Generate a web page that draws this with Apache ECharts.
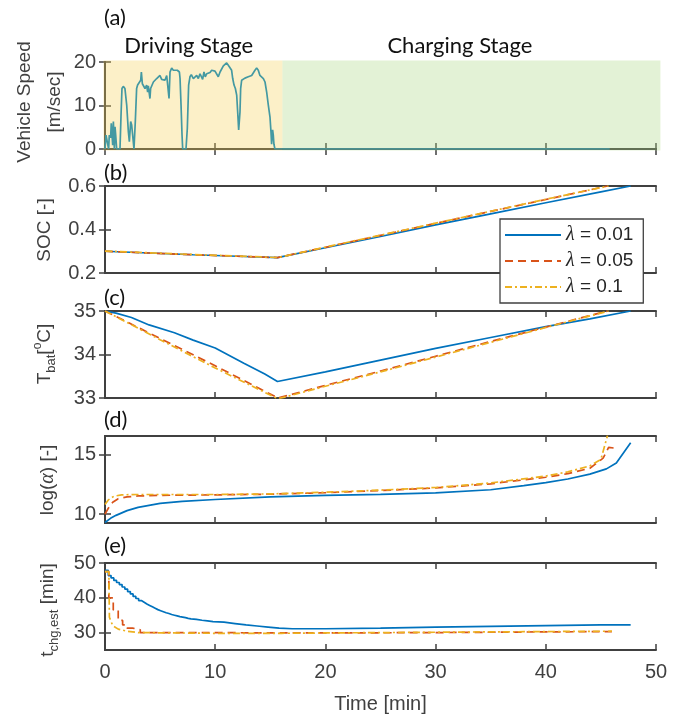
<!DOCTYPE html>
<html>
<head>
<meta charset="utf-8">
<script src="https://cdn.jsdelivr.net/npm/echarts@6/dist/echarts.min.js"></script>
<style>
  html, body { margin: 0; background: #fff; }
  #chart { width: 682px; height: 716px; }
</style>
</head>
<body>
<div id="chart"></div>
<script>
// ---- data ----
const timeTicks = [0, 10, 20, 30, 40, 50];
const lambdas = ['λ = 0.01', 'λ = 0.05', 'λ = 0.1'];

// (a) vehicle speed [m/s] vs time [min]
const speed = [
  [0, 0], [0.09, 3.2], [0.21, 3.4], [0.33, 0], [0.39, 3.2], [0.51, 2.6], [0.57, 5.9], [0.7, 0.9],
  [0.76, 6.3], [0.85, 0], [0.91, 5.1], [0.97, 3.2], [1.06, 0], [1.36, 0], [1.45, 7.4], [1.54, 13.9],
  [1.66, 14.4], [1.81, 13.9], [1.97, 10.1], [2.12, 4.0], [2.21, 1.7], [2.33, 6.3], [2.42, 5.5],
  [2.51, 3.2], [2.63, 0], [2.75, 6.3], [2.87, 13.9], [2.96, 14.7], [3.12, 14.3], [3.24, 15.8],
  [3.3, 17.7], [3.39, 15.0], [3.48, 14.7], [3.63, 13.9], [3.78, 14.7], [3.87, 13.1], [3.93, 14.5],
  [4.08, 11.6], [4.14, 13.9], [4.26, 14.3], [4.39, 15.4], [4.54, 15.0], [4.69, 16.2], [4.87, 16.2],
  [4.99, 16.9], [5.14, 16.0], [5.29, 16.3], [5.44, 15.8], [5.6, 16.9], [5.75, 17.3], [5.81, 11.6],
  [5.9, 17.7], [6.05, 18.6], [6.2, 18.1], [6.35, 18.5], [6.56, 18.1], [6.75, 17.7], [6.81, 16.2],
  [6.9, 10.1], [6.99, 3.2], [7.05, 0], [7.35, 0], [7.47, 4.7], [7.59, 14.7], [7.71, 16.6],
  [7.83, 17.1], [8.02, 16.2], [8.17, 16.6], [8.32, 16.9], [8.47, 16.2], [8.62, 17.3], [8.77, 16.9],
  [8.86, 16.0], [8.98, 17.7], [9.1, 16.6], [9.23, 17.3], [9.38, 17.7], [9.53, 17.6], [9.68, 18.1],
  [9.83, 18.1], [9.98, 17.9], [10.13, 18.1], [10.28, 16.6], [10.44, 17.7], [10.59, 18.1],
  [10.74, 19.1], [10.89, 18.9], [11.04, 19.8], [11.19, 19.6], [11.28, 18.9], [11.4, 18.5],
  [11.49, 18.1], [11.59, 16.2], [11.71, 14.7], [11.83, 13.9], [11.95, 12.4], [12.04, 8.5],
  [12.13, 4.4], [12.19, 4.1], [12.25, 8.5], [12.31, 13.9], [12.4, 15.8], [12.55, 16.0],
  [12.7, 16.3], [12.85, 16.0], [13.0, 16.6], [13.16, 16.2], [13.31, 16.9], [13.46, 17.3],
  [13.61, 18.1], [13.76, 18.6], [13.91, 18.1], [14.06, 16.9], [14.21, 16.6], [14.37, 16.2],
  [14.52, 15.4], [14.67, 13.1], [14.82, 10.1], [14.97, 7.4], [15.06, 4.0], [15.12, 1.1],
  [15.21, 4.4], [15.27, 3.2], [15.33, 1.1], [15.42, 0], [30, 0], [45.8, 0]
];
const stageEdges = [0, 16.1, 50.4];
const stageNames = ['Driving Stage', 'Charging Stage'];
const stageLabelT = [7.6, 32.2];

// (b) SOC [-]
const soc001 = [[0, 0.300], [4, 0.292], [8, 0.284], [12, 0.277], [15.65, 0.271], [20, 0.316], [25, 0.368],
  [30, 0.421], [35, 0.472], [40, 0.523], [45, 0.573], [47.7, 0.6]];
const soc005 = [[0, 0.300], [4, 0.292], [8, 0.284], [12, 0.277], [15.65, 0.271], [20, 0.318], [25, 0.373],
  [30, 0.428], [35, 0.483], [40, 0.538], [45.6, 0.6]];
const soc01 = [[0, 0.301], [4, 0.293], [8, 0.285], [12, 0.278], [15.7, 0.271], [20, 0.319], [25, 0.374],
  [30, 0.429], [35, 0.484], [40, 0.539], [45.7, 0.6]];

// (c) battery temperature [degC]
const tb001 = [[0, 35], [1, 34.95], [2.4, 34.85], [4, 34.68], [6.3, 34.5], [8, 34.33], [10, 34.15],
  [12.6, 33.8], [14.5, 33.55], [15.65, 33.38], [20, 33.6], [25, 33.87], [30, 34.14], [35, 34.39],
  [40, 34.64], [44, 34.82], [47.7, 35]];
const tb005 = [[0, 35], [5, 34.37], [10, 33.74], [15.7, 33.0], [20, 33.29], [25, 33.62], [30, 33.96],
  [35, 34.3], [40, 34.63], [45.6, 35]];
const tb01 = [[0, 35], [5, 34.34], [10, 33.69], [15.7, 32.98], [20, 33.27], [25, 33.6], [30, 33.94],
  [35, 34.28], [40, 34.62], [45.7, 35]];

// (d) log(alpha)
const la001 = [[0, 9.3], [0.5, 9.65], [1, 9.9], [2, 10.3], [3, 10.57], [5, 10.9], [7, 11.08], [10, 11.23],
  [15, 11.45], [20, 11.58], [25, 11.67], [30, 11.78], [35, 12.05], [38, 12.4], [40, 12.65], [42, 12.95],
  [44, 13.36], [45.5, 13.8], [46.4, 14.3], [47.7, 16.0]];
const la005 = [[0, 10.0], [0.3, 10.5], [0.7, 11.0], [1.2, 11.3], [2, 11.45], [3, 11.53], [5, 11.58],
  [10, 11.62], [15, 11.68], [20, 11.8], [25, 11.98], [30, 12.2], [35, 12.55], [40, 13.1], [42, 13.4],
  [44, 13.85], [45.2, 14.7], [45.7, 15.6], [46.2, 15.55]];
const la01 = [[0, 10.82], [0.3, 11.2], [0.8, 11.5], [1.5, 11.62], [3, 11.65], [10, 11.65], [15, 11.7],
  [20, 11.84], [25, 12.02], [30, 12.24], [35, 12.62], [40, 13.2], [42, 13.55], [44, 14.05], [45, 14.6],
  [45.6, 16.6]];

// (e) estimated charging time [min]
const tc001 = [[0, 47.9], [0.3, 46.4], [0.55, 45.7], [0.8, 45.0], [1.05, 44.4], [1.3, 43.8], [1.55, 43.1],
  [1.8, 42.5], [2.05, 41.8], [2.3, 41.1], [2.55, 40.4], [2.8, 39.8], [3.05, 39.2], [3.3, 38.7],
  [3.55, 38.2], [3.8, 37.8], [4.05, 37.4], [4.3, 37.0], [4.55, 36.6], [4.8, 36.3], [5.05, 36.0],
  [5.3, 35.7], [5.55, 35.5], [5.8, 35.2], [6.05, 35.0], [6.3, 34.8], [6.55, 34.6], [6.8, 34.45],
  [7.05, 34.3], [7.3, 34.1], [7.55, 33.95], [7.8, 33.8], [8.3, 33.55], [8.8, 33.35], [9.3, 33.15],
  [9.8, 33.0], [10.8, 32.6], [11.8, 32.2], [12.8, 31.9], [13.8, 31.6], [14.8, 31.3], [15.8, 31.1],
  [17, 31.1], [20, 31.3], [25, 31.6], [30, 31.8], [35, 32.0], [40, 32.2], [45, 32.2], [47.7, 32.2]];
const tc005 = [[0, 47.5], [0.35, 40.0], [0.75, 36.5], [1.2, 33.5], [1.6, 32.2], [2.0, 31.3], [2.5, 30.8],
  [3.2, 30.0], [10, 29.9], [16, 29.9], [20, 30.0], [30, 30.2], [40, 30.3], [46, 30.3]];
const tc01 = [[0, 47.5], [0.35, 47.5], [0.4, 34.4], [0.7, 32.0], [1.2, 31.0], [2, 30.4], [3, 30.0],
  [10, 29.8], [16, 29.8], [20, 29.9], [30, 30.1], [40, 30.3], [46, 30.4]];

// ---- layout / style ----
const axisGray = '#404040';
const lineColors = ['#0072BD', '#D95319', '#EDB120'];
const lineTypes = ['solid', [8, 5], [7, 3, 2, 3]];
const stageColors = ['rgba(246,207,85,0.32)', 'rgba(168,216,127,0.32)'];
const gridTops = [62, 186, 311, 436, 563];
const gridH = 87;

const panels = [
  { min: 0, max: 20, ticks: [0, 10, 20] },
  { min: 0.2, max: 0.6, ticks: [0.2, 0.4, 0.6] },
  { min: 33, max: 35, ticks: [33, 34, 35] },
  { min: 9.26, max: 16.56, ticks: [10, 15] },
  { min: 25, max: 50, ticks: [30, 40, 50] }
];

const tickFont = { fontFamily: 'Liberation Sans', fontSize: 20, color: axisGray };
const grids = [], xAxes = [], yAxes = [];
panels.forEach((p, i) => {
  grids.push({ left: 105, right: 26, top: gridTops[i], height: gridH });
  const lineCfg = { show: true, lineStyle: { color: axisGray, width: 2 } };
  const tickCfg = { show: true, inside: true, length: 6, lineStyle: { color: axisGray, width: 1.5 } };
  xAxes.push({
    gridIndex: i, type: 'value', min: timeTicks[0], max: timeTicks[timeTicks.length - 1], interval: 10,
    position: 'bottom', axisLine: lineCfg, axisTick: tickCfg, splitLine: { show: false },
    axisLabel: { show: i === 4, margin: 12, ...tickFont },
    name: i === 4 ? 'Time [min]' : '', nameLocation: 'middle', nameGap: 44,
    nameTextStyle: { fontFamily: 'Liberation Sans', fontSize: 20, color: axisGray }
  });
  xAxes.push({
    gridIndex: i, type: 'value', min: timeTicks[0], max: timeTicks[timeTicks.length - 1], interval: 10,
    position: 'top', axisLine: lineCfg, axisTick: tickCfg, axisLabel: { show: false }, splitLine: { show: false }
  });
  const yBase = {
    gridIndex: i, type: 'value', min: p.min, max: p.max, axisLine: lineCfg, splitLine: { show: false },
    axisTick: { ...tickCfg, customValues: p.ticks }
  };
  yAxes.push({ ...yBase, position: 'left', axisLabel: { margin: 9, customValues: p.ticks, ...tickFont } });
  yAxes.push({ ...yBase, position: 'right', axisLabel: { show: false } });
});

const series = [];
// stage backgrounds for panel (a)
series.push({
  type: 'custom', xAxisIndex: 0, yAxisIndex: 0, z: 2, silent: true, clip: false,
  data: stageNames.map((n, i) => [stageEdges[i], stageEdges[i + 1], i]),
  renderItem: (params, api) => {
    const i = api.value(2);
    const p0 = api.coord([api.value(0), panels[0].max]);
    const p1 = api.coord([api.value(1), panels[0].min]);
    const x0 = i === 0 ? p0[0] - 1.5 : p0[0];
    const lab = api.coord([stageLabelT[i], panels[0].max]);
    return {
      type: 'group',
      children: [
        { type: 'rect', shape: { x: x0, y: p0[1] - 1.5, width: p1[0] - x0, height: p1[1] - p0[1] + 3 },
          style: { fill: stageColors[i] } },
        { type: 'text', x: lab[0], y: lab[1] - 16,
          style: { text: stageNames[i], align: 'center', verticalAlign: 'middle',
                   font: '22px Lato', fill: '#111' } }
      ]
    };
  }
});
series.push({
  type: 'line', name: 'speed', xAxisIndex: 0, yAxisIndex: 0, z: 3, symbol: 'none',
  lineStyle: { color: '#4499a2', width: 1.7 }, data: speed
});

const panelData = [
  [soc001, soc005, soc01],
  [tb001, tb005, tb01],
  [la001, la005, la01],
  [tc001, tc005, tc01]
];
const stepModes = [
  [false, false, false], [false, false, false], [false, false, false], ['end', 'end', false]
];
panelData.forEach((set, pi) => {
  const gi = pi + 1;
  set.forEach((d, k) => {
    series.push({
      type: 'line', name: lambdas[k], xAxisIndex: gi * 2, yAxisIndex: gi * 2, z: 3 + k,
      symbol: 'none', step: stepModes[pi][k], data: d,
      lineStyle: { color: lineColors[k], width: 1.7, type: lineTypes[k] },
      itemStyle: { color: lineColors[k] }
    });
  });
});

const labelGray = '#404040';
const yTitle = (x, y, text, rich) => ({
  type: 'text', x, y, rotation: Math.PI / 2,
  style: { text, align: 'center', verticalAlign: 'middle', fill: labelGray,
           font: '19px "Liberation Sans"', rich }
});
const base = { fontFamily: 'Liberation Sans', fontSize: 19, lineHeight: 26, color: labelGray };
const sub = { fontFamily: 'Liberation Sans', fontSize: 13, lineHeight: 12, verticalAlign: 'bottom', color: labelGray };
const sup = { fontFamily: 'Liberation Sans', fontSize: 12, lineHeight: 12, verticalAlign: 'top', color: labelGray };
const panelLetter = (y, t) => ({
  type: 'text', x: 104, y, style: { text: t, align: 'left', verticalAlign: 'middle', font: '22px Lato', fill: '#111' }
});

const option = {
  animation: false,
  backgroundColor: '#fff',
  grid: grids,
  xAxis: xAxes,
  yAxis: yAxes,
  legend: {
    data: lambdas, orient: 'vertical', left: 500, top: 219, itemWidth: 56, itemHeight: 14, itemGap: 6,
    padding: [6, 10, 6, 4], backgroundColor: '#fff', borderColor: axisGray, borderWidth: 1.3,
    selectedMode: false, z: 10, itemStyle: { opacity: 0 },
    textStyle: { fontFamily: 'Liberation Sans', fontSize: 19, color: '#262626',
                 rich: { l: { fontFamily: 'Liberation Serif', fontStyle: 'italic', fontSize: 20, color: '#262626' } } },
    formatter: n => '{l|λ}' + n.slice(1)
  },
  graphic: [
    panelLetter(18, '(a)'), panelLetter(173, '(b)'), panelLetter(298, '(c)'),
    panelLetter(420, '(d)'), panelLetter(546, '(e)'),
    yTitle(25, 102, 'Vehicle Speed'),
    yTitle(55, 102, '[m/sec]'),
    yTitle(45, 230, 'SOC [-]'),
    yTitle(45, 354, '{b|T}{s|bat}{b|[}{p|o}{b|C]}', { b: base, s: sub, p: sup }),
    yTitle(48, 480, '{b|log(}{g|α}{b|) [-]}', { b: base, g: { ...base, fontFamily: 'Liberation Serif', fontStyle: 'italic', fontSize: 20 } }),
    yTitle(48, 610, '{b|t}{s|chg,est}{b| [min]}', { b: base, s: sub })
  ],
  series
};
const chart = echarts.init(document.getElementById('chart'));
chart.setOption(option);
</script>
</body>
</html>
